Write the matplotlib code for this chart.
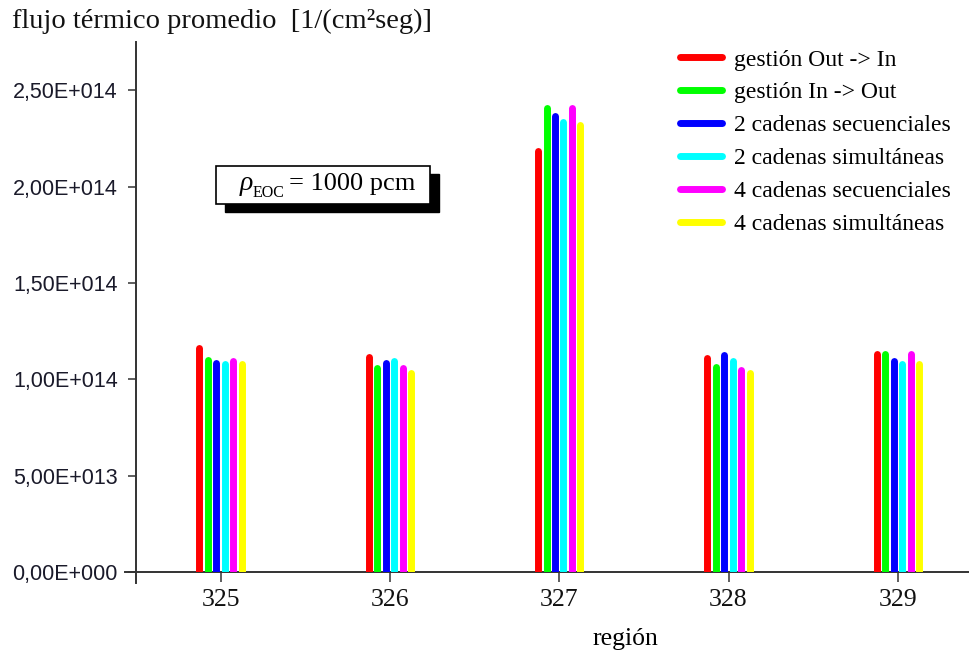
import numpy as np
import matplotlib
matplotlib.use("Agg")
from matplotlib import pyplot as plt
from matplotlib.lines import Line2D
from matplotlib.patches import Rectangle
from matplotlib.ticker import FuncFormatter, MultipleLocator

# datos: flujo termico promedio por region (1/(cm2 seg))
regiones = [325, 326, 327, 328, 329]
series = ['gestión Out -> In', 'gestión In -> Out', '2 cadenas secuenciales',
          '2 cadenas simultáneas', '4 cadenas secuenciales', '4 cadenas simultáneas']
colores = ['#ff0000', '#00ff00', '#0000ff', '#00ffff', '#ff00ff', '#ffff00']

out_in = [1.160e14, 1.115e14, 2.185e14, 1.110e14, 1.130e14]
in_out = [1.100e14, 1.060e14, 2.410e14, 1.065e14, 1.130e14]
cad2_sec = [1.085e14, 1.085e14, 2.365e14, 1.125e14, 1.095e14]
cad2_sim = [1.080e14, 1.095e14, 2.335e14, 1.095e14, 1.080e14]
cad4_sec = [1.095e14, 1.060e14, 2.405e14, 1.050e14, 1.130e14]
cad4_sim = [1.080e14, 1.035e14, 2.320e14, 1.035e14, 1.080e14]
valores = [out_in, in_out, cad2_sec, cad2_sim, cad4_sec, cad4_sim]

plt.rcParams['font.family'] = ['Liberation Serif', 'DejaVu Serif']

W, H = 970, 651
fig = plt.figure(figsize=(W / 100, H / 100), dpi=100)
x0, x1, ytop, ybot = 136, 982.5, 42, 572
ax = fig.add_axes([x0 / W, 1 - ybot / H, (x1 - x0) / W, (ybot - ytop) / H])

paso = 0.05
for i, (vals, c) in enumerate(zip(valores, colores)):
    xs = np.array(regiones) + (i - 2.5) * paso
    ax.vlines(xs, 0, vals, colors=c, linewidth=5.0, capstyle='round', zorder=3)

ax.set_xlim(324.5, 329.5)
ax.set_ylim(0, 2.75e14)
ax.set_xticks(regiones)
ax.yaxis.set_major_locator(MultipleLocator(5e13))


def fmt_sci(v, pos):
    if v == 0:
        return '0,00E+000'
    e = int(np.floor(np.log10(abs(v))))
    m = v / 10 ** e
    return f'{m:.2f}'.replace('.', ',') + f'E+{e:03d}'


ax.yaxis.set_major_formatter(FuncFormatter(fmt_sci))
ax.tick_params(axis='y', direction='out', length=6, width=1.1, pad=7,
               labelsize=15.5, colors='#333333', labelcolor='#1a1a2a')
ax.tick_params(axis='x', direction='out', length=7.5, width=1.1, pad=5,
               labelsize=18.5, colors='#333333', labelcolor='#111111')
for lab in ax.get_yticklabels():
    lab.set_fontfamily('Liberation Sans')

for s in ['top', 'right']:
    ax.spines[s].set_visible(False)
for s in ['left', 'bottom']:
    ax.spines[s].set_linewidth(1.4)
    ax.spines[s].set_color('#333333')
ax.spines['left'].set_bounds(-0.055e14, 2.75e14)
ax.spines['bottom'].set_bounds(324.435, 329.5)

ax.set_xlabel('región', fontsize=18.5)
ax.xaxis.set_label_coords(0.578, -0.105)

fig.text(12 / W, 1 - 21 / H, 'flujo térmico promedio  [1/(cm²seg)]',
         fontsize=20.5, ha='left', va='center', color='#111111')

# recuadro con sombra
sombra = Rectangle((225 / W, 1 - 212 / H), 214 / W, 38 / H, transform=fig.transFigure,
                   facecolor='black', edgecolor='black', zorder=5)
caja = Rectangle((216 / W, 1 - 204 / H), 214 / W, 38 / H, transform=fig.transFigure,
                 facecolor='white', edgecolor='black', linewidth=1.2, zorder=6)
fig.patches.extend([sombra, caja])
fig.text(240 / W, 1 - 183 / H, 'ρ', fontsize=20, style='italic',
         ha='left', va='center', zorder=7)
fig.text(253 / W, 1 - 193 / H, 'EOC', fontsize=11.5, ha='left', va='center', zorder=7)
fig.text(415 / W, 1 - 184 / H, '= 1000 pcm', fontsize=19, ha='right', va='center', zorder=7)

handles = [Line2D([], [], color=c, linewidth=5.0, solid_capstyle='round') for c in colores]
ax.legend(handles, series, loc='upper left', bbox_to_anchor=(680 / W, 1 - 49 / H),
          bbox_transform=fig.transFigure, frameon=False, fontsize=17,
          handlelength=1.8, handletextpad=0.47, labelspacing=0.48,
          borderpad=0, borderaxespad=0)

fig.savefig('out.png', dpi=100)
